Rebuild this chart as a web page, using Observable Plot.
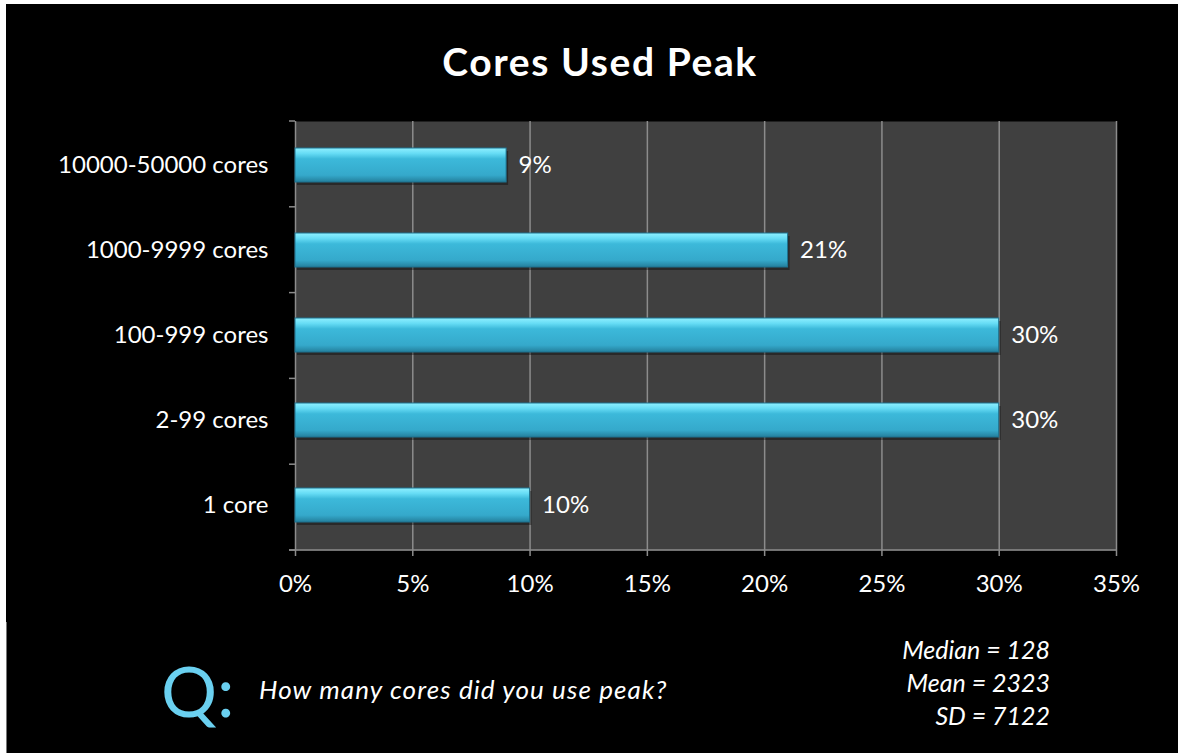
<!DOCTYPE html>
<html><head><meta charset="utf-8">
<script src="https://cdn.jsdelivr.net/npm/d3@7"></script>
<script src="https://cdn.jsdelivr.net/npm/@observablehq/plot@0.6"></script>
<style>
body{margin:0;background:#fff;width:1178px;height:753px;position:relative;overflow:hidden;font-family:Lato,sans-serif}
#bg{position:absolute;left:6px;top:4px;right:0;bottom:0;background:#000}
#edge{position:absolute;left:6px;top:622px;width:1px;bottom:0;background:#777}
#title{position:absolute;left:0;width:1200px;top:38px;text-align:center;color:#fff;font-weight:bold;font-size:39px;letter-spacing:1.6px}
#chart{position:absolute;left:0;top:0}
#q{position:absolute;left:161px;top:655px;color:#6ad0f0;font-size:70px;line-height:70px}
#question{position:absolute;left:259px;top:673px;color:#fff;font-style:italic;font-size:26px;letter-spacing:1.1px}
#stats{position:absolute;right:128px;top:633px;color:#fff;font-style:italic;font-size:25px;line-height:33px;text-align:right}
</style></head><body>
<div id="bg"></div><div id="edge"></div>
<div id="title">Cores Used Peak</div>
<div id="chart"></div>
<div id="q">Q:</div>
<div id="question">How many cores did you use peak?</div>
<div id="stats">Median = 128<br>Mean = 2323<br>SD = 7122</div>
<script>
// categories, top to bottom
const categories = ["10000-50000 cores", "1000-9999 cores", "100-999 cores", "2-99 cores", "1 core"];
const shares = [0.09, 0.21, 0.30, 0.30, 0.10];
const xTicks = [0, 0.05, 0.10, 0.15, 0.20, 0.25, 0.30, 0.35];
const data = categories.map((c, i) => ({category: c, share: shares[i]}));

const gridColor = "#8c8c8c";

function decorations(index, scales, values, dimensions) {
  const {width, height, marginTop, marginBottom, marginLeft, marginRight} = dimensions;
  const g = d3.create("svg:g");
  const defs = g.append("defs");
  const grad = defs.append("linearGradient").attr("id", "barGrad").attr("x1", 0).attr("y1", 0).attr("x2", 0).attr("y2", 1);
  [[0, "#8ff0ff"], [0.16, "#66dcf5"], [0.32, "#3cb9da"], [0.8, "#35a9cb"], [1, "#247f9c"]]
    .forEach(([o, c]) => grad.append("stop").attr("offset", o).attr("stop-color", c));
  const n = categories.length;
  const h = height - marginTop - marginBottom;
  for (let i = 0; i <= n; i++) {
    const y = marginTop + i * h / n;
    g.append("line").attr("x1", marginLeft - 6).attr("x2", marginLeft).attr("y1", y).attr("y2", y)
      .attr("stroke", gridColor).attr("stroke-width", 1.5);
  }
  g.append("line").attr("x1", marginLeft - 6).attr("x2", width - marginRight)
    .attr("y1", height - marginBottom).attr("y2", height - marginBottom)
    .attr("stroke", gridColor).attr("stroke-width", 1.5);
  return g.node();
}

const chart = Plot.plot({
  width: 1178,
  height: 620,
  marginLeft: 295,
  marginRight: 62,
  marginTop: 121,
  marginBottom: 70,
  style: {background: "transparent", color: "white", fontFamily: "Lato, sans-serif"},
  x: {domain: [0, 0.35]},
  y: {domain: categories, paddingInner: 0.6, paddingOuter: 0.3},
  marks: [
    Plot.frame({fill: "#404040", stroke: null}),
    Plot.gridX(xTicks, {stroke: gridColor, strokeOpacity: 1, strokeWidth: 1.5}),
    decorations,
    Plot.barX(data, {x: "share", y: "category", fill: "#000", fillOpacity: 0.35, dy: 3, dx: 2}),
    Plot.barX(data, {x: "share", y: "category", fill: "url(#barGrad)", stroke: "#1f7390", strokeWidth: 1}),
    Plot.text(data, {x: "share", y: "category", text: d => Math.round(d.share * 100) + "%", textAnchor: "start", dx: 12, fill: "white", fontSize: 24}),
    Plot.axisY({tickSize: 0, tickPadding: 27, fontSize: 24, fill: "white", label: null}),
    Plot.axisX({ticks: xTicks, tickFormat: d => Math.round(d * 100) + "%", tickSize: 6, tickPadding: 18, fontSize: 24, fill: "white", stroke: gridColor, strokeWidth: 1.5, label: null})
  ]
});
document.getElementById("chart").appendChild(chart);
</script>
</body></html>
